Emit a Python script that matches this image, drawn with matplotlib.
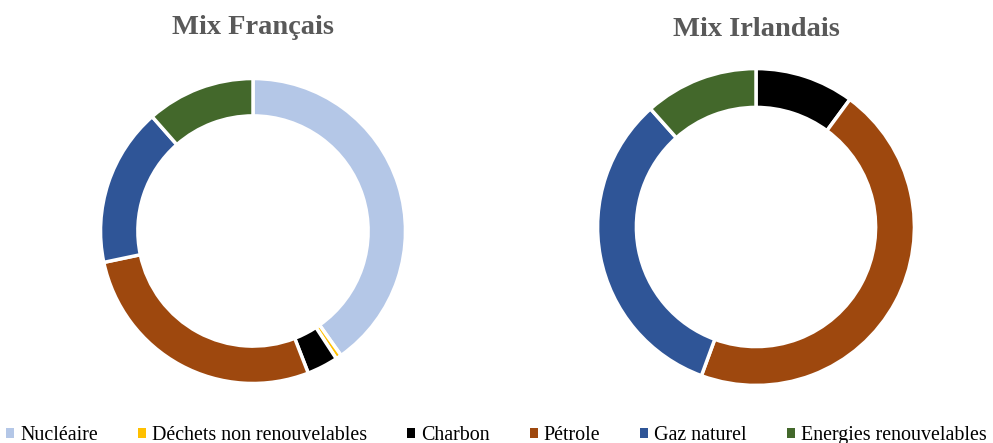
import matplotlib
matplotlib.use("Agg")
import matplotlib.pyplot as plt
from matplotlib.patches import Patch

categories = ["Nucléaire", "Déchets non renouvelables", "Charbon", "Pétrole",
              "Gaz naturel", "Energies renouvelables"]
colors = ["#B4C7E7", "#FFC000", "#000000", "#9E480E", "#2F5597", "#43682B"]
france = [40.2, 0.6, 3.3, 27.6, 16.8, 11.5]
irlande = [0.0, 0.0, 10.1, 45.5, 32.8, 11.6]
titles = ["Mix Français", "Mix Irlandais"]

plt.rcParams["font.family"] = ["Liberation Serif", "DejaVu Serif"]

W, H = 993, 443
fig = plt.figure(figsize=(W / 100, H / 100), dpi=100)

def add_donut(cx, cy, r, vals, title, ty, width):
    ax = fig.add_axes([(cx - r) / W, (H - cy - r) / H, 2 * r / W, 2 * r / H])
    ax.pie(vals, colors=colors, startangle=90, counterclock=False, radius=1,
           wedgeprops=dict(width=width, edgecolor="white", linewidth=2.5))
    ax.set_xlim(-1.01, 1.01)
    ax.set_ylim(-1.01, 1.01)
    ax.set_aspect("equal")
    ax.axis("off")
    fig.text(cx / W, 1 - ty / H, title, ha="center", va="center",
             family="Liberation Serif", fontsize=20.5, fontweight="bold", color="#595959")

add_donut(253, 231, 154, france, titles[0], 27, 0.245)
add_donut(756, 227, 160, irlande, titles[1], 30, 0.245)

handles = [Patch(facecolor=c, edgecolor="none") for c in colors]
fig.legend(handles, categories, loc="lower center", ncol=6, frameon=False,
           prop=dict(family="Liberation Serif", size=14.4),
           handlelength=0.4, handleheight=0.4, handletextpad=0.3,
           columnspacing=2.0, bbox_to_anchor=(0.5, -0.045))

fig.savefig("out.png", dpi=100, facecolor="white")
